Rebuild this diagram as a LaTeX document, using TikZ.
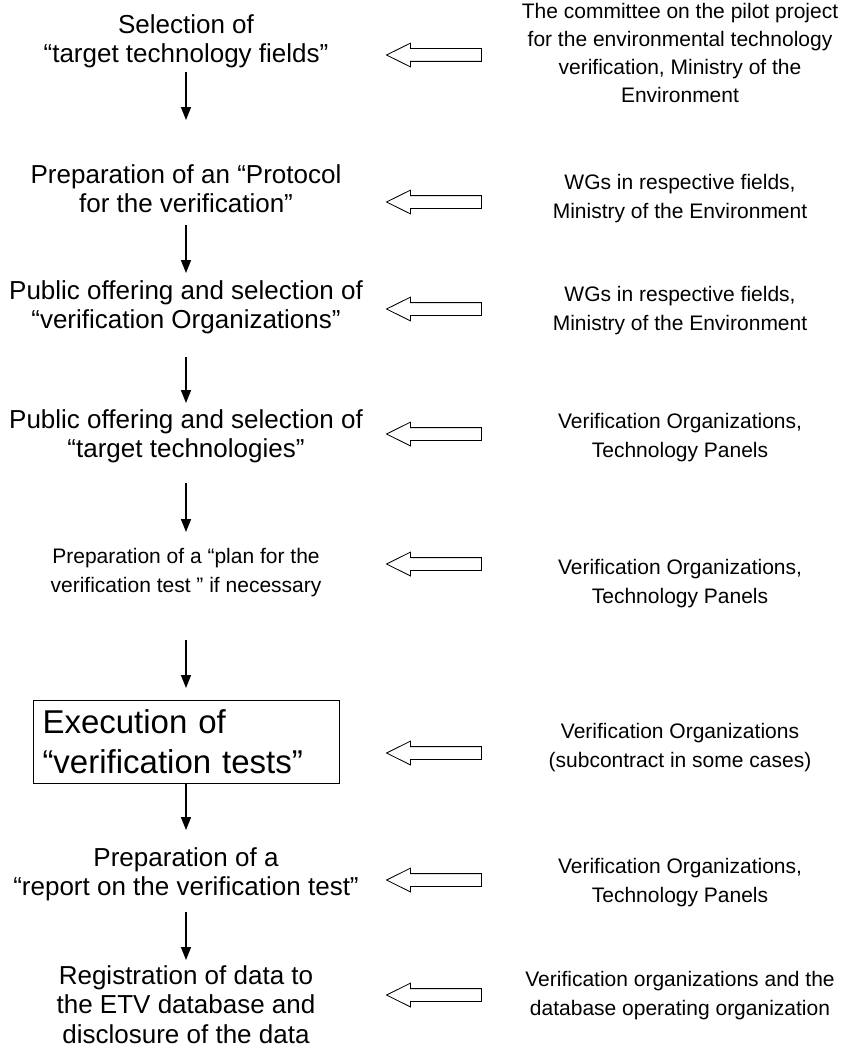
\documentclass[tikz,border=0pt]{standalone}
\usepackage{fontspec}
\setmainfont{Liberation Sans}
\usetikzlibrary{arrows.meta,shapes.arrows}
\begin{document}
\begin{tikzpicture}[x=1pt, y=-1pt,
  flow/.style={-{Triangle[length=13pt,width=10pt]}, line width=1.6pt},
  step node/.style={align=center, anchor=base, inner sep=0pt, font=\fontsize{26}{29}\selectfont},
  who node/.style={align=center, anchor=base, inner sep=0pt, font=\fontsize{21}{28.5}\selectfont},
  hollow/.style={single arrow, draw, line width=0.8pt, shape border rotate=180, minimum height=95pt,
    inner xsep=0pt, inner ysep=6pt, single arrow head extend=5.5pt, single arrow tip angle=53}]
\useasboundingbox (0,0) rectangle (852,1049);
\fill[white] (0,0) rectangle (852,1049);
% steps (anchored at the baseline of their last line)
\begin{scope}
\node[step node] (s1) at (186,63) {Selection of\\“target technology fields”};
\node[step node] (s2) at (186,212) {Preparation of an “Protocol\\for the verification”};
\node[step node] (s3) at (186,328) {Public offering and selection of\\“verification Organizations”};
\node[step node] (s4) at (186,457) {Public offering and selection of\\“target technologies”};
\node[step node, font=\fontsize{21}{29}\selectfont] (s5) at (186,592) {Preparation of a “plan for the\\verification test ” if necessary};
\node[draw, line width=1pt, anchor=north west, text width=288pt, inner xsep=9pt, inner ysep=0pt,
  minimum height=83pt, align=left, font=\fontsize{33}{40}\selectfont] (s6) at (33,700) {Execution of\\“verification tests”};
\node[step node] (s7) at (186,895) {Preparation of a\\“report on the verification test”};
\node[step node, font=\fontsize{26}{29.5}\selectfont] (s8) at (186,1043) {Registration of data to\\the ETV database and\\disclosure of the data};
\end{scope}
% who does it
\begin{scope}
\node[who node, font=\fontsize{21}{27.7}\selectfont] (a1) at (680,102) {The committee on the pilot project\\for the environmental technology\\verification, Ministry of the\\Environment};
\node[who node] (a2) at (680,218) {WGs in respective fields,\\Ministry of the Environment};
\node[who node] (a3) at (680,330) {WGs in respective fields,\\Ministry of the Environment};
\node[who node] (a4) at (680,457) {Verification Organizations,\\Technology Panels};
\node[who node] (a5) at (680,603) {Verification Organizations,\\Technology Panels};
\node[who node] (a6) at (680,767) {Verification Organizations\\(subcontract in some cases)};
\node[who node] (a7) at (680,902) {Verification Organizations,\\Technology Panels};
\node[who node] (a8) at (680,1015) {Verification organizations and the\\database operating organization};
\end{scope}
\begin{scope}
\foreach \i/\y in {1/55, 2/202, 3/309, 4/434, 5/564, 6/753, 7/880, 8/995}
  \node[hollow] (h\i) at (440.5,\y) {};
\foreach \i/\ya/\yb in {1/72/120, 2/225/273, 3/357/403, 4/483/532, 5/640/688, 6/783/830, 7/912/960}{
  \coordinate (d\i a) at (186,\ya);
  \coordinate (d\i b) at (186,\yb);
  \draw[flow] (d\i a) -- (d\i b);
}
\end{scope}
\end{tikzpicture}
\end{document}
